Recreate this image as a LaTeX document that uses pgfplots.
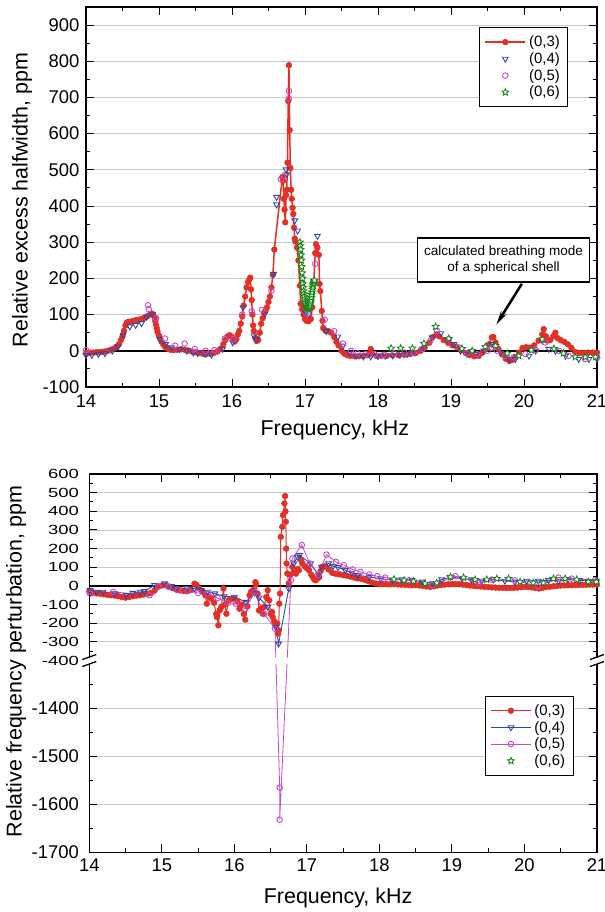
\documentclass[border=0pt]{standalone}
\usepackage{pgfplots}
\pgfplotsset{compat=1.18}
\usepackage{fontspec}
\setmainfont{Liberation Sans}
\usepackage{graphicx}
\usetikzlibrary{plotmarks,arrows.meta}
\definecolor{cRed}{RGB}{226,48,38}
\definecolor{cBlue}{RGB}{48,72,170}
\definecolor{cMag}{RGB}{200,70,200}
\definecolor{cGreen}{RGB}{20,130,20}
\definecolor{cGrid}{RGB}{200,200,200}
\newcommand\up[1]{\scalebox{1}[0.72]{#1}}
\pgfdeclareplotmark{fivestar}{%
  \pgfpathmoveto{\pgfqpointpolar{90}{\pgfplotmarksize}}%
  \pgfpathlineto{\pgfqpointpolar{126}{0.45\pgfplotmarksize}}%
  \pgfpathlineto{\pgfqpointpolar{162}{\pgfplotmarksize}}%
  \pgfpathlineto{\pgfqpointpolar{198}{0.45\pgfplotmarksize}}%
  \pgfpathlineto{\pgfqpointpolar{234}{\pgfplotmarksize}}%
  \pgfpathlineto{\pgfqpointpolar{270}{0.45\pgfplotmarksize}}%
  \pgfpathlineto{\pgfqpointpolar{306}{\pgfplotmarksize}}%
  \pgfpathlineto{\pgfqpointpolar{342}{0.45\pgfplotmarksize}}%
  \pgfpathlineto{\pgfqpointpolar{18}{\pgfplotmarksize}}%
  \pgfpathlineto{\pgfqpointpolar{54}{0.45\pgfplotmarksize}}%
  \pgfpathclose
  \pgfusepathqfillstroke}
\begin{document}
\begin{tikzpicture}
\useasboundingbox (0bp,0bp) rectangle (605bp,912bp);
\pgfplotsset{
  common/.style={
    scale only axis,
    xmin=14, xmax=21,
    xtick={14,...,21},
    minor x tick num=1,
    tick align=inside,
    major tick length=8bp,
    minor tick length=4bp,
    every tick/.style={black, line width=1bp},
    axis line style={black, line width=1.3bp},
    ymajorgrids,
    major grid style={cGrid, line width=0.9bp},
    /pgf/number format/assume math mode=true,
    ticklabel style={font=\fontsize{18.5}{20}\selectfont},
    label style={font=\fontsize{21.5}{24}\selectfont},
    extra y ticks={0}, extra y tick labels={},
    extra y tick style={major grid style={black,line width=1.7bp}, major tick length=0pt},
    legend cell align=left,
    legend image code/.code={\draw[mark repeat=2,mark phase=2,##1] plot coordinates {(0bp,0bp)(20bp,0bp)(40bp,0bp)};},
  },
}
% ---------------- top panel ----------------
\begin{axis}[common,
  at={(86bp,525bp)}, anchor=south west, width=511bp, height=380bp,
  ymin=-100, ymax=950,
  ytick={-100,0,100,200,300,400,500,600,700,800,900},
  minor y tick num=1,
  xticklabel style={yshift=-4bp},
  yticklabel style={xshift=-3bp},
  xlabel={Frequency, kHz},
  ylabel={Relative excess halfwidth, ppm},
  xlabel style={at={(axis description cs:0.487,-0.113)}, anchor=center},
  ylabel style={at={(axis description cs:-0.125,0.492)}, anchor=center},
  legend style={at={(axis description cs:0.769,0.947)}, anchor=north west, draw=black, line width=1.3bp, fill=white,
    font=\fontsize{15}{17}\selectfont, inner xsep=5bp, inner ysep=6bp,
    nodes={inner xsep=3bp, inner ysep=2.2bp}, row sep=0pt},
]
\addplot[cRed, line width=1.5bp, mark=*, mark size=2.9bp, mark options={fill=cRed, draw=cRed, line width=0.5bp}] coordinates {
(14.00,-6)(14.03,-6)(14.06,-5)(14.10,-5)(14.14,-4)(14.18,-4)(14.22,-3)(14.26,-2)(14.30,0)(14.34,3)(14.38,6)(14.42,12)(14.45,18)(14.48,30)(14.50,40)(14.52,55)(14.54,70)(14.56,78)(14.58,80)(14.61,80)(14.64,82)(14.67,84)(14.70,85)(14.73,86)(14.76,88)(14.79,90)(14.82,93)(14.85,97)(14.88,101)(14.90,103)(14.92,100)(14.94,92)(14.95,82)(14.96,72)(14.97,62)(14.98,52)(15.00,42)(15.02,32)(15.04,24)(15.06,17)(15.08,12)(15.10,8)(15.13,5)(15.16,3)(15.20,2)(15.25,3)(15.30,4)(15.35,3)(15.40,1)(15.45,-2)(15.50,-4)(15.55,-6)(15.60,-8)(15.65,-9)(15.70,-8)(15.75,-6)(15.80,-2)(15.84,5)(15.88,18)(15.91,30)(15.94,40)(15.97,43)(16.00,38)(16.02,30)(16.04,26)(16.06,32)(16.08,45)(16.10,55)(16.12,75)(16.14,95)(16.16,125)(16.18,150)(16.20,175)(16.22,190)(16.24,198)(16.25,202)(16.26,170)(16.27,140)(16.28,100)(16.29,70)(16.30,55)(16.32,35)(16.34,27)(16.36,30)(16.38,50)(16.40,75)(16.42,90)(16.44,105)(16.46,112)(16.48,120)(16.50,135)(16.52,150)(16.54,175)(16.56,210)(16.58,280)(16.69,480)(16.70,470)(16.71,420)(16.72,390)(16.73,355)(16.74,430)(16.75,445)(16.76,520)(16.77,690)(16.78,789)(16.79,610)(16.80,505)(16.81,445)(16.82,420)(16.83,395)(16.84,378)(16.85,340)(16.86,310)(16.87,302)(16.89,285)(16.91,250)(16.93,180)(16.94,130)(16.96,115)(16.98,100)(17.00,88)(17.02,83)(17.05,82)(17.08,88)(17.10,120)(17.12,190)(17.14,270)(17.15,295)(17.17,285)(17.19,265)(17.20,185)(17.21,165)(17.23,110)(17.24,83)(17.25,63)(17.28,56)(17.32,54)(17.36,50)(17.40,38)(17.43,25)(17.46,15)(17.50,0)(17.54,-8)(17.58,-12)(17.62,-14)(17.68,-15)(17.74,-15)(17.80,-14)(17.86,-12)(17.90,5)(17.92,-10)(17.98,-14)(18.05,-14)(18.12,-14)(18.20,-13)(18.28,-12)(18.36,-11)(18.44,-9)(18.52,-6)(18.58,0)(18.64,9)(18.70,22)(18.75,38)(18.80,45)(18.84,40)(18.90,30)(18.96,22)(19.02,15)(19.08,10)(19.14,2)(19.20,-6)(19.26,-12)(19.32,-15)(19.38,-14)(19.43,-5)(19.48,5)(19.52,18)(19.56,37)(19.58,38)(19.61,23)(19.65,5)(19.70,-10)(19.75,-22)(19.80,-28)(19.84,-25)(19.88,-18)(19.93,-5)(19.98,8)(20.03,10)(20.08,9)(20.14,15)(20.20,28)(20.25,45)(20.27,60)(20.30,40)(20.32,28)(20.36,30)(20.40,40)(20.43,50)(20.46,35)(20.50,30)(20.55,25)(20.60,18)(20.65,8)(20.70,-3)(20.76,-6)(20.82,-6)(20.88,-5)(20.94,-5)(21.00,-5)
};
\addlegendentry{(0,3)}
\addplot[only marks, mark=triangle, mark size=3.3bp, mark options={draw=cBlue, fill=white, rotate=180, line width=0.9bp}] coordinates {
(14.00,-12)(14.08,-12)(14.17,-9)(14.26,-7)(14.36,0)(14.44,11)(14.51,44)(14.60,67)(14.68,71)(14.76,76)(14.83,94)(14.91,102)(15.01,32)(15.09,18)(15.17,9)(15.28,5)(15.38,0)(15.47,-5)(15.53,-7)(15.63,-9)(15.72,-11)(15.87,5)(16.01,23)(16.15,120)(16.30,42)(16.33,32)(16.45,102)(16.57,212)(16.61,425)(16.61,404)(16.74,501)(16.75,487)(16.86,360)(16.90,332)(17.01,106)(17.05,100)(17.13,191)(17.17,317)(17.29,54)(17.45,39)(17.52,14)(17.61,-5)(17.70,-14)(17.80,-16)(17.90,-16)(18.00,-15)(18.10,-14)(18.20,-13)(18.30,-12)(18.40,-9)(18.50,-5)(18.61,5)(18.74,37)(18.86,48)(18.95,32)(19.04,18)(19.13,0)(19.22,-9)(19.34,-9)(19.45,0)(19.56,18)(19.68,-5)(19.80,-23)(19.88,-23)(20.07,-14)(20.16,0)(20.25,28)(20.34,5)(20.43,0)(20.57,-14)(20.75,-23)(20.89,-23)(21.00,-23)
};
\addlegendentry{(0,4)}
\addplot[only marks, mark=o, mark size=2.8bp, mark options={draw=cMag, fill=white, line width=0.9bp}] coordinates {
(14.00,2)(14.85,126)(14.86,115)(14.96,90)(15.08,34)(15.22,14)(15.35,20)(15.49,5)(15.64,0)(15.76,2)(15.90,34)(16.02,32)(16.14,100)(16.27,109)(16.41,113)(16.54,166)(16.67,474)(16.78,718)(16.78,697)(17.04,104)(17.14,240)(17.27,86)(17.40,54)(17.52,20)(17.63,0)(17.72,-7)(17.83,-9)(17.95,-9)(18.08,-11)(18.22,-7)(18.36,-5)(18.49,-5)(18.61,5)(18.72,28)(18.81,55)(18.97,32)(19.11,9)(19.22,-7)(19.36,-9)(19.50,0)(19.56,9)(19.63,0)(19.74,-14)(19.86,-18)(20.02,-9)(20.16,2)(20.29,23)(20.48,0)(20.61,-14)(20.84,-23)(21.00,-18)
};
\addlegendentry{(0,5)}
\addplot[only marks, mark=fivestar, mark size=3.6bp, mark options={draw=cGreen, fill=white, line width=0.8bp}] coordinates {
(16.930,300)(16.935,290)(16.940,280)(16.945,265)(16.950,250)(16.955,232)(16.960,215)(16.965,200)(16.970,185)(16.975,175)(16.980,165)(16.985,157)(16.990,150)(16.995,143)(17.000,137)(17.005,132)(17.010,128)(17.015,125)(17.020,122)(17.025,120)(17.030,118)(17.035,117)(17.040,116)(17.045,116)(17.050,117)(17.055,119)(17.060,122)(17.065,126)(17.070,130)(17.075,135)(17.080,140)(17.085,147)(17.090,155)(17.095,162)(17.100,170)(17.105,176)(17.110,182)(17.115,186)(17.120,190)(17.125,193)(17.130,195)
(18.18,7)(18.31,7)(18.47,7)(18.63,20)(18.79,67)(18.97,34)(19.15,6)(19.29,0)(19.47,11)(19.61,14)(19.77,-7)(19.93,-14)(20.10,2)(20.25,32)(20.41,6)(20.54,-7)(20.70,-17)(20.84,-17)(20.98,-17)
};
\addlegendentry{(0,6)}
\node[draw=black, line width=1.2bp, fill=white, align=center, font=\fontsize{13.6}{15.5}\selectfont, minimum width=172bp, minimum height=44bp, inner sep=2bp] at (axis cs:19.72,251) {calculated breathing mode\\of a spherical shell};
\draw[line width=2.5bp, -{Stealth[length=14bp,width=6bp]}] (axis cs:19.97,185) -- (axis cs:19.62,72);
\end{axis}
% ---------------- bottom panel ----------------
\begin{axis}[common,
  at={(89.3bp,59.7bp)}, anchor=south west, width=507.7bp, height=378.3bp,
  ymin=-1700, ymax=600,
  y coord trafo/.code={\pgfmathparse{#1>-850 ? #1 : (#1+1300)*2.57-400}},
  y coord inv trafo/.code={\pgfmathparse{#1>-400 ? #1 : (#1+400)/2.57-1300}},
  ytick={-1700,-1600,-1500,-1400,-400,-300,-200,-100,0,100,200,300,400,500,600},
  yticklabels={-1700,-1600,-1500,-1400,\up{-400},\up{-300},\up{-200},\up{-100},\up{0},\up{100},\up{200},\up{300},\up{400},\up{500},\up{600}},
  minor ytick={-1650,-1550,-1450,-1350,-350,-250,-150,-50,50,150,250,350,450,550},
  xticklabel style={yshift=-3bp},
  yticklabel style={xshift=-7bp},
  xlabel={Frequency, kHz},
  ylabel={Relative frequency perturbation, ppm},
  xlabel style={at={(axis description cs:0.49,-0.122)}, anchor=center},
  ylabel style={at={(axis description cs:-0.144,0.504)}, anchor=center},
  legend style={at={(axis description cs:0.779,0.414)}, anchor=north west, draw=black, line width=1.3bp, fill=white,
    font=\fontsize{15}{17}\selectfont, inner xsep=5bp, inner ysep=6bp,
    nodes={inner xsep=3bp, inner ysep=2.2bp}, row sep=0pt},
]
\addplot[cRed, line width=1bp, mark=*, mark size=2.9bp, mark options={fill=cRed, draw=cRed, line width=0.5bp}] coordinates {
(14.00,-30)(14.05,-35)(14.10,-40)(14.15,-42)(14.20,-45)(14.25,-48)(14.30,-50)(14.35,-52)(14.40,-55)(14.45,-60)(14.50,-63)(14.55,-60)(14.60,-55)(14.65,-52)(14.70,-50)(14.75,-46)(14.80,-42)(14.85,-38)(14.90,-25)(14.95,-5)(15.00,2)(15.05,4)(15.10,-3)(15.15,-12)(15.20,-20)(15.25,-24)(15.30,-27)(15.35,-29)(15.40,-22)(15.45,12)(15.48,5)(15.52,-15)(15.56,-30)(15.60,-50)(15.62,-95)(15.65,-60)(15.68,-68)(15.72,-90)(15.75,-150)(15.76,-167)(15.78,-211)(15.80,-130)(15.82,-113)(15.85,-14)(15.87,-100)(15.89,-149)(15.92,-77)(15.96,-70)(16.00,-68)(16.04,-80)(16.07,-122)(16.10,-100)(16.13,-150)(16.15,-181)(16.18,-110)(16.21,-50)(16.23,-32)(16.26,-20)(16.29,20)(16.30,10)(16.32,-41)(16.34,-131)(16.37,-120)(16.39,-149)(16.41,-113)(16.44,-60)(16.46,-23)(16.48,-77)(16.50,-149)(16.52,-140)(16.53,-167)(16.55,-190)(16.57,-211)(16.59,-202)(16.60,-256)(16.61,-238)(16.62,-95)(16.63,-41)(16.64,263)(16.66,317)(16.67,380)(16.69,443)(16.70,482)(16.705,400)(16.71,344)(16.715,200)(16.72,120)(16.73,66)(16.75,13)(16.77,60)(16.80,102)(16.83,70)(16.85,66)(16.87,90)(16.89,84)(16.92,138)(16.94,120)(16.97,105)(17.00,95)(17.03,84)(17.06,60)(17.08,48)(17.10,35)(17.12,30)(17.15,40)(17.17,48)(17.19,80)(17.21,102)(17.24,105)(17.26,102)(17.30,88)(17.35,70)(17.40,65)(17.45,62)(17.50,58)(17.55,55)(17.60,50)(17.65,45)(17.70,40)(17.75,38)(17.80,32)(17.85,25)(17.90,18)(17.95,13)(18.00,10)(18.05,10)(18.10,10)(18.15,9)(18.20,9)(18.25,8)(18.30,7)(18.35,6)(18.40,5)(18.45,4)(18.50,4)(18.55,2)(18.60,0)(18.65,-3)(18.70,-5)(18.75,-2)(18.80,2)(18.85,5)(18.90,7)(18.95,9)(19.00,10)(19.05,10)(19.10,9)(19.15,7)(19.20,5)(19.25,2)(19.30,0)(19.35,-2)(19.40,-3)(19.45,-5)(19.50,-6)(19.55,-8)(19.60,-9)(19.65,-10)(19.70,-10)(19.75,-11)(19.80,-11)(19.85,-10)(19.90,-9)(19.95,-7)(20.00,-5)(20.05,-6)(20.10,-8)(20.15,-11)(20.20,-14)(20.25,-10)(20.30,-6)(20.35,-4)(20.40,-2)(20.45,0)(20.50,2)(20.55,3)(20.60,4)(20.65,4)(20.70,5)(20.75,5)(20.80,6)(20.85,6)(20.90,7)(20.95,7)(21.00,7)
};
\addlegendentry{(0,3)}
\addplot[cBlue, line width=0.9bp, mark=triangle, mark size=3.3bp, mark options={draw=cBlue, fill=white, rotate=180, line width=0.9bp}] coordinates {
(14.01,-23)(14.10,-32)(14.19,-32)(14.35,-41)(14.51,-50)(14.60,-38)(14.70,-32)(14.76,-29)(14.90,4)(15.04,13)(15.13,-2)(15.20,-14)(15.34,-11)(15.45,-14)(15.54,-23)(15.63,-32)(15.73,-41)(15.86,-56)(16.00,-59)(16.16,-86)(16.28,-38)(16.34,-63)(16.46,-113)(16.57,-220)(16.61,-310)(16.75,-14)(16.82,120)(16.87,156)(16.90,165)(17.05,120)(17.16,60)(17.20,102)(17.30,120)(17.36,105)(17.43,100)(17.53,84)(17.62,70)(17.70,57)(17.86,48)(18.02,39)(18.18,30)(18.31,34)(18.45,30)(18.59,22)(18.73,13)(18.86,34)(18.98,48)(19.14,39)(19.27,34)(19.41,27)(19.57,34)(19.73,27)(19.87,22)(20.03,27)(20.19,27)(20.33,30)(20.47,27)(20.60,34)(20.76,30)(20.88,27)(20.99,27)
};
\addlegendentry{(0,4)}
\addplot[cMag, line width=0.8bp, mark=o, mark size=2.8bp, mark options={draw=cMag, fill=white, line width=0.9bp}] coordinates {
(14.01,-41)(14.33,-32)(14.83,-50)(14.95,-2)(15.09,-5)(15.22,-20)(15.36,-27)(15.50,-38)(15.63,-41)(15.77,-65)(15.91,-91)(16.02,-95)(16.15,-122)(16.28,-36)(16.41,-149)(16.56,-229)(16.625,-1565)(16.625,-1632)(16.78,31)(16.80,147)(16.93,219)(17.04,120)(17.16,60)(17.27,168)(17.40,129)(17.51,111)(17.63,88)(17.74,75)(17.86,61)(17.97,52)(18.08,45)(18.41,30)(18.73,4)(19.05,52)(19.37,16)(19.55,34)(19.87,30)(20.19,-2)(20.47,45)(20.65,39)(20.97,30)
};
\addlegendentry{(0,5)}
\addplot[only marks, mark=fivestar, mark size=3.6bp, mark options={draw=cGreen, fill=white, line width=0.8bp}] coordinates {
(18.20,36)(18.34,30)(18.47,25)(18.63,13)(18.79,16)(18.98,48)(19.16,45)(19.32,34)(19.48,34)(19.62,39)(19.78,39)(19.94,22)(20.12,16)(20.26,16)(20.40,39)(20.56,39)(20.72,34)(20.88,22)(20.99,22)
};
\addlegendentry{(0,6)}
\coordinate (bkL) at (rel axis cs:0,0.5069);
\coordinate (bkR) at (rel axis cs:1,0.5069);
\end{axis}
\fill[white] ([xshift=-2bp,yshift=-3bp]bkL) rectangle ([xshift=2bp,yshift=3bp]bkR);
\foreach \p in {bkL,bkR}{
  \draw[line width=1.3bp] ([shift={(-7bp,-6bp)}]\p) -- ([shift={(7bp,-1bp)}]\p);
  \draw[line width=1.3bp] ([shift={(-7bp,1bp)}]\p) -- ([shift={(7bp,6bp)}]\p);
}
\end{tikzpicture}
\end{document}
